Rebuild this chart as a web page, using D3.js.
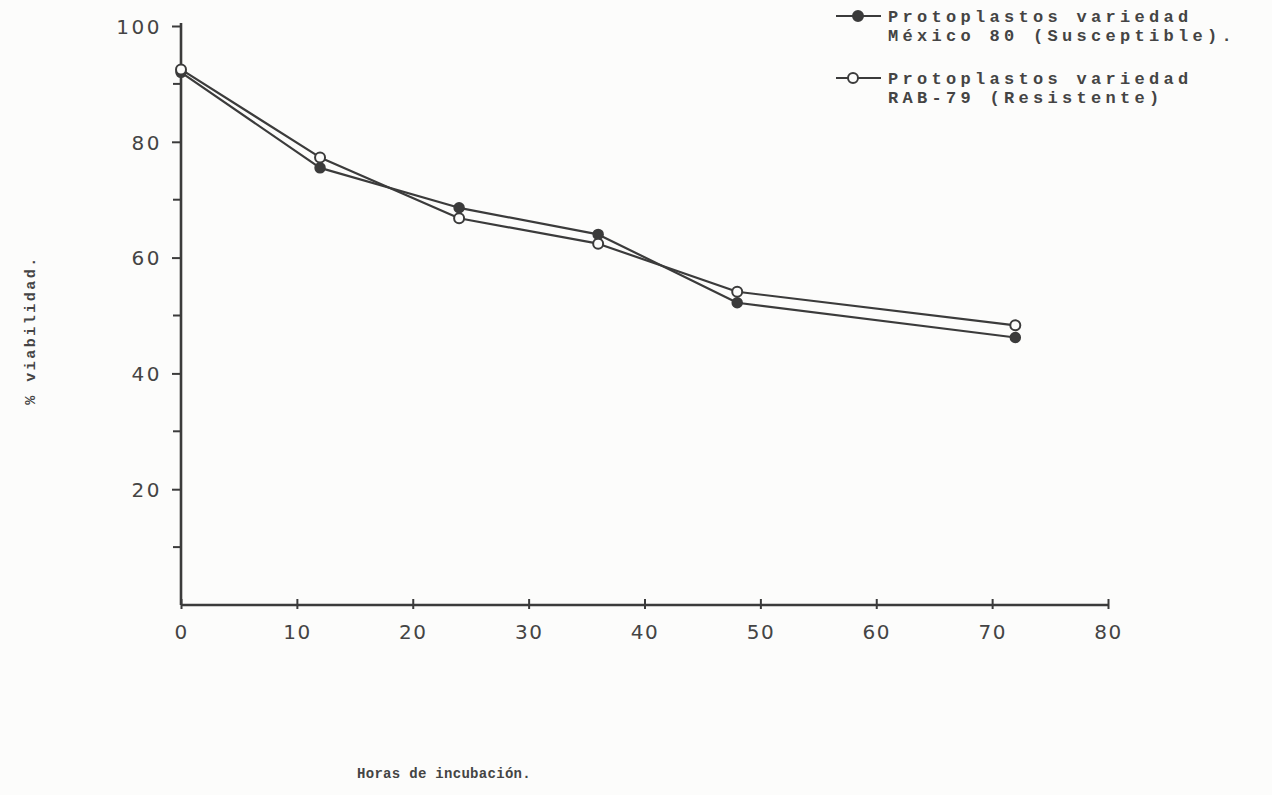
<!DOCTYPE html>
<html>
<head>
<meta charset="utf-8">
<script src="https://cdn.jsdelivr.net/npm/d3@7"></script>
<style>
  html, body { margin: 0; padding: 0; background: #fcfcfb; }
  svg { display: block; }
</style>
</head>
<body>
<svg id="chart" width="1272" height="795"></svg>
<script>
// Viability of protoplasts over incubation time, two varieties
const hours = [0, 12, 24, 36, 48, 72];
const mexico80 = [92, 75.5, 68.6, 64.0, 52.2, 46.2];   // susceptible (filled marker)
const rab79 = [92.5, 77.3, 66.8, 62.4, 54.1, 48.3];     // resistant (open marker)
const xTicks = [0, 10, 20, 30, 40, 50, 60, 70, 80];
const yMajorTicks = [20, 40, 60, 80, 100];
const yMinorTicks = [10, 30, 50, 70, 90];
const legendLabels = [
  ["Protoplastos variedad", "México 80 (Susceptible)."],
  ["Protoplastos variedad", "RAB-79 (Resistente)"]
];

const ink = "#3b3b3b";
const svg = d3.select("#chart");

const x = d3.scaleLinear().domain([0, 80]).range([181, 1108]);
const y = d3.scaleLinear().domain([0, 100]).range([605, 26]);

// Y axis
const yAxis = svg.append("g").attr("transform", `translate(${x(0)},0)`)
  .call(d3.axisLeft(y).tickValues(yMajorTicks).tickSize(9).tickPadding(10).tickSizeOuter(0));
yAxis.select(".domain").attr("stroke", ink).attr("stroke-width", 2.6)
  .attr("d", `M0,${y(0)}V${y(100) - 3}`);
yAxis.selectAll(".tick line").attr("stroke", ink).attr("stroke-width", 2);
yAxis.selectAll(".tick text")
  .attr("fill", "#444")
  .style("font-family", "'DejaVu Sans', sans-serif")
  .style("font-size", "20px")
  .style("letter-spacing", "2.5px")
  .attr("dy", "0.36em");
svg.append("g").selectAll("line").data(yMinorTicks).join("line")
  .attr("x1", x(0) - 8).attr("x2", x(0))
  .attr("y1", d => y(d)).attr("y2", d => y(d))
  .attr("stroke", ink).attr("stroke-width", 2);

// X axis
const xAxis = svg.append("g").attr("transform", `translate(0,${y(0)})`)
  .call(d3.axisBottom(x).tickValues(xTicks).tickSize(5).tickPadding(15).tickSizeOuter(0));
xAxis.select(".domain").attr("stroke", ink).attr("stroke-width", 2.6)
  .attr("d", `M${x(0)},0H${x(80)}`);
xAxis.selectAll(".tick line").attr("stroke", ink).attr("stroke-width", 2).attr("y1", -6).attr("y2", 4);
xAxis.selectAll(".tick text")
  .attr("fill", "#444")
  .style("font-family", "'DejaVu Sans', sans-serif")
  .style("font-size", "20px")
  .style("letter-spacing", "1.5px");

// Series lines
const line = d3.line().x((d, i) => x(hours[i])).y(d => y(d));
[mexico80, rab79].forEach(vals => {
  svg.append("path").datum(vals)
    .attr("d", line)
    .attr("fill", "none")
    .attr("stroke", ink)
    .attr("stroke-width", 2.2)
    .attr("stroke-linejoin", "round");
});

// Markers
svg.append("g").selectAll("circle").data(mexico80).join("circle")
  .attr("cx", (d, i) => x(hours[i])).attr("cy", d => y(d))
  .attr("r", 5).attr("fill", ink).attr("stroke", ink).attr("stroke-width", 1.5);
svg.append("g").selectAll("circle").data(rab79).join("circle")
  .attr("cx", (d, i) => x(hours[i])).attr("cy", d => y(d))
  .attr("r", 5).attr("fill", "#fcfcfb").attr("stroke", ink).attr("stroke-width", 2);

// Axis titles
const mono = "'Liberation Mono', 'DejaVu Sans Mono', monospace";
svg.append("text")
  .attr("transform", "translate(35,330) rotate(-90)")
  .attr("text-anchor", "middle")
  .attr("fill", "#444")
  .style("font-family", mono).style("font-weight", "bold")
  .style("font-size", "15px").style("letter-spacing", "2.5px")
  .text("% viabilidad.");
svg.append("text")
  .attr("x", 444).attr("y", 778)
  .attr("text-anchor", "middle")
  .attr("fill", "#444")
  .style("font-family", mono).style("font-weight", "bold")
  .style("font-size", "14px").style("letter-spacing", "0.3px")
  .text("Horas de incubación.");

// Legend
const legend = svg.append("g");
const entries = [
  { cy: 16, mx: 858, filled: true, labels: legendLabels[0] },
  { cy: 78, mx: 853, filled: false, labels: legendLabels[1] }
];
entries.forEach(e => {
  legend.append("line")
    .attr("x1", 836).attr("x2", 881)
    .attr("y1", e.cy).attr("y2", e.cy)
    .attr("stroke", ink).attr("stroke-width", 2.2);
  legend.append("circle")
    .attr("cx", e.mx).attr("cy", e.cy).attr("r", 5)
    .attr("fill", e.filled ? ink : "#fcfcfb")
    .attr("stroke", ink).attr("stroke-width", 2);
  e.labels.forEach((t, i) => {
    legend.append("text")
      .attr("x", 888).attr("y", e.cy + 6 + i * 19)
      .attr("fill", "#444")
      .style("font-family", mono).style("font-weight", "bold")
      .style("font-size", "17px").style("letter-spacing", "4.3px")
      .text(t);
  });
});
</script>
</body>
</html>
